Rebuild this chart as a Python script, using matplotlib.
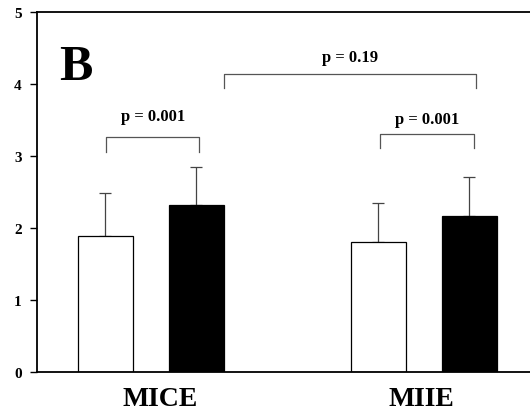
import numpy as np
import matplotlib.pyplot as plt

groups = ['MICE', 'MIIE']
white_means = [1.89, 1.81]
white_err = [0.60, 0.54]
black_means = [2.32, 2.17]
black_err = [0.53, 0.54]

# (x-left, x-right, y-bar, y-leg, text-y, label)
brackets = [
    (-0.49, 0.53, 3.26, 3.06, 3.56, 'p = 0.001'),
    (2.52, 3.55, 3.31, 3.11, 3.51, 'p = 0.001'),
    (0.80, 3.57, 4.14, 3.94, 4.37, 'p = 0.19'),
]

plt.rcParams['font.family'] = ['Liberation Serif', 'DejaVu Serif']
plt.rcParams['font.weight'] = 'bold'

fig = plt.figure(figsize=(5.3, 4.14), dpi=100)
ax = fig.add_axes([37 / 530, 1 - 373 / 414, 493 / 530, 360 / 414])

pos = np.array([0.0, 3.0])
w = 0.6
ax.bar(pos - 0.5, white_means, w, color='white', edgecolor='black', linewidth=0.9, zorder=2)
ax.bar(pos + 0.5, black_means, w, color='black', edgecolor='black', linewidth=0.9, zorder=2)
ax.errorbar(pos - 0.5, white_means, yerr=[np.zeros(2), white_err], fmt='none',
            ecolor='#444444', elinewidth=0.9, capsize=4, capthick=0.9, zorder=1)
ax.errorbar(pos + 0.5, black_means, yerr=[np.zeros(2), black_err], fmt='none',
            ecolor='#444444', elinewidth=0.9, capsize=4, capthick=0.9, zorder=1)

for x0, x1, yb, yl, yt, lab in brackets:
    ax.plot([x0, x0, x1, x1], [yl, yb, yb, yl], color='#555555', lw=0.9)
    ax.text((x0 + x1) / 2, yt, lab, ha='center', va='center', fontsize=12, fontweight='bold')

ax.text(-0.82, 4.24, 'B', fontsize=36, fontweight='bold', ha='center', va='center')

ax.set_xlim(-1.25, 4.165)
ax.set_ylim(0, 5)
ax.set_yticks(range(6))
ax.set_xticks([0.1, 2.97])
ax.set_xticklabels(groups, fontsize=20, fontweight='bold')
ax.tick_params(axis='x', length=0, pad=10)
ax.tick_params(axis='y', length=5, width=1, labelsize=11, pad=6)
ax.spines['right'].set_visible(False)
for s in ['left', 'top', 'bottom']:
    ax.spines[s].set_linewidth(1.3)

plt.savefig('out.png', dpi=100)
